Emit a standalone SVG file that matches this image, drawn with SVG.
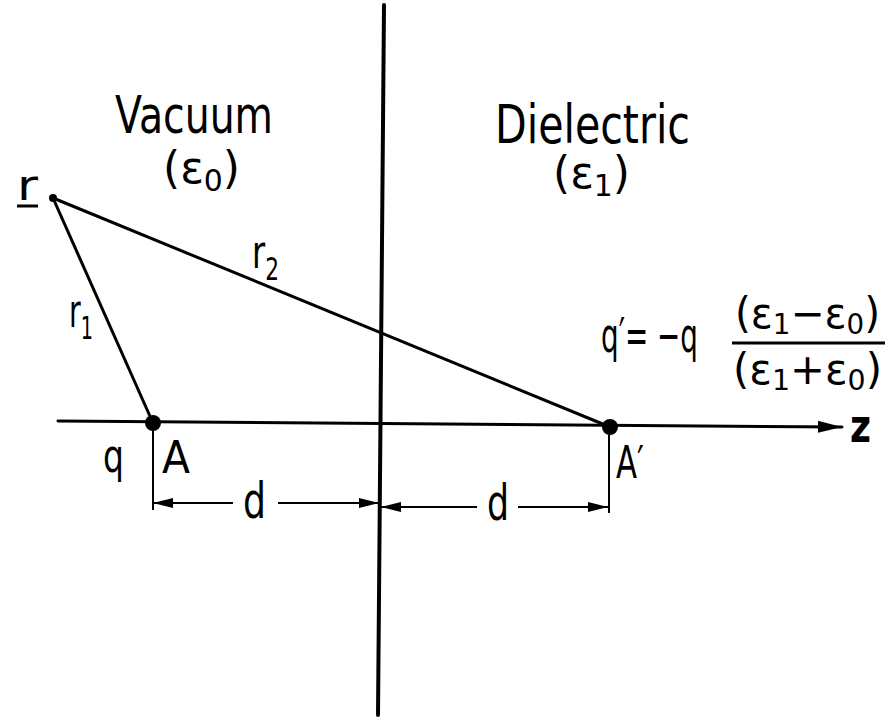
<svg xmlns="http://www.w3.org/2000/svg" width="890" height="719" viewBox="0 0 890 719">
<style>
text{font-family:"DejaVu Sans","Liberation Sans",sans-serif;fill:#000;}
.ln{stroke:#000;stroke-width:3;fill:none;stroke-linecap:round;}
.dim{stroke:#000;stroke-width:2;fill:none;}
.sub{font-size:0.68em;}
</style>
<defs>
<marker id="ah" viewBox="0 0 20 10" refX="20" refY="5" markerWidth="20" markerHeight="10" markerUnits="userSpaceOnUse" orient="auto-start-reverse">
<path d="M0,0 L20,5 L0,10 Z" fill="#000"/>
</marker>
<marker id="ahz" viewBox="0 0 24 12" refX="24" refY="6" markerWidth="24" markerHeight="12" markerUnits="userSpaceOnUse" orient="auto">
<path d="M0,0 L24,6 L0,12 Z" fill="#000"/>
</marker>
</defs>
<rect width="890" height="719" fill="#fff"/>

<g id="connectors">
<line class="ln" x1="384" y1="5" x2="378" y2="715" style="stroke-width:4"/>
<line class="ln" x1="58" y1="421" x2="842" y2="427" marker-end="url(#ahz)"/>
<line class="ln" x1="53" y1="198" x2="153" y2="423"/>
<line class="ln" x1="53" y1="198" x2="610" y2="427"/>
<line class="dim" x1="153" y1="423" x2="153" y2="510"/>
<line class="dim" x1="609" y1="427" x2="609" y2="513"/>
<line class="dim" x1="153" y1="503" x2="233" y2="503" marker-start="url(#ah)"/>
<line class="dim" x1="278" y1="503" x2="379" y2="503" marker-end="url(#ah)"/>
<line class="dim" x1="381" y1="507" x2="477" y2="507" marker-start="url(#ah)"/>
<line class="dim" x1="518" y1="507" x2="608" y2="507" marker-end="url(#ah)"/>
</g>

<g id="vacuum-label">
<text x="115" y="133" font-size="52" textLength="158" lengthAdjust="spacingAndGlyphs">Vacuum</text>
<text x="163" y="183" font-size="44" textLength="77" lengthAdjust="spacingAndGlyphs">(ε<tspan class="sub" dy="8">0</tspan><tspan dy="-8">)</tspan></text>
</g>

<g id="dielectric-label">
<text x="495" y="143" font-size="54" textLength="195" lengthAdjust="spacingAndGlyphs">Dielectric</text>
<text x="553" y="188" font-size="44" textLength="77" lengthAdjust="spacingAndGlyphs">(ε<tspan class="sub" dy="8">1</tspan><tspan dy="-8">)</tspan></text>
</g>

<g id="point-r">
<circle cx="53" cy="198" r="4" fill="#000"/>
<text x="17" y="200" font-size="42" textLength="21" lengthAdjust="spacingAndGlyphs">r</text>
<line x1="17" y1="206" x2="38" y2="206" stroke="#000" stroke-width="3"/>
</g>

<g id="label-r1">
<text x="69" y="327" font-size="46" textLength="24" lengthAdjust="spacingAndGlyphs">r<tspan class="sub" dy="12">1</tspan></text>
</g>
<g id="label-r2">
<text x="252" y="268" font-size="46" textLength="27" lengthAdjust="spacingAndGlyphs">r<tspan class="sub" dy="12">2</tspan></text>
</g>

<g id="point-A">
<circle cx="153" cy="423" r="8" fill="#000"/>
<text x="103" y="472" font-size="46" textLength="21" lengthAdjust="spacingAndGlyphs">q</text>
<text x="162" y="473" font-size="44" textLength="28" lengthAdjust="spacingAndGlyphs">A</text>
</g>

<g id="point-A-prime">
<circle cx="610" cy="427" r="8" fill="#000"/>
<text x="616" y="478" font-size="44" textLength="28" lengthAdjust="spacingAndGlyphs">A′</text>
</g>

<g id="dim-labels">
<text x="243" y="518" font-size="50" textLength="23" lengthAdjust="spacingAndGlyphs">d</text>
<text x="487" y="520" font-size="50" textLength="22" lengthAdjust="spacingAndGlyphs">d</text>
</g>

<g id="axis-label">
<text x="850" y="442" font-size="46" font-weight="bold" textLength="21" lengthAdjust="spacingAndGlyphs">z</text>
</g>

<g id="formula">
<text x="601" y="352" font-size="48" textLength="97" lengthAdjust="spacingAndGlyphs">q′= −q</text>
<text x="735" y="328" font-size="42" textLength="145" lengthAdjust="spacingAndGlyphs">(ε<tspan class="sub" dy="6">1</tspan><tspan dy="-6">−ε</tspan><tspan class="sub" dy="6">0</tspan><tspan dy="-6">)</tspan></text>
<line x1="732" y1="343" x2="885" y2="343" stroke="#000" stroke-width="3"/>
<text x="733" y="384" font-size="42" textLength="149" lengthAdjust="spacingAndGlyphs">(ε<tspan class="sub" dy="6">1</tspan><tspan dy="-6">+ε</tspan><tspan class="sub" dy="6">0</tspan><tspan dy="-6">)</tspan></text>
</g>
</svg>
